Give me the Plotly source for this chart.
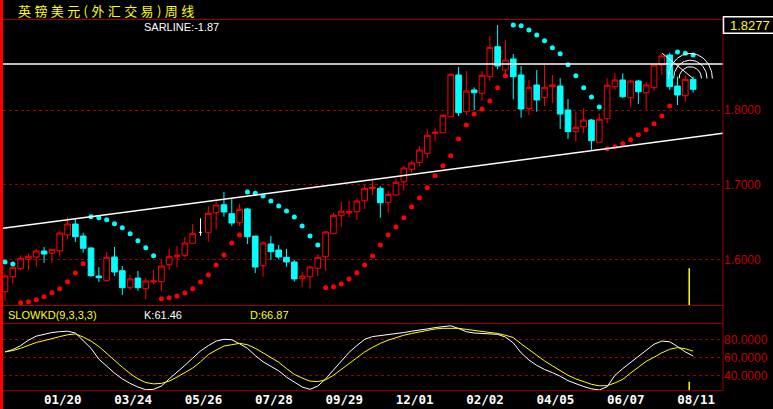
import numpy as np
import plotly.graph_objects as go

# ---------------- data ----------------
opens = [1.5568, 1.5768, 1.5881, 1.6001, 1.6032, 1.6112, 1.6082, 1.6116, 1.6327, 1.6474,
         1.6313, 1.6153, 1.5778, 1.5715, 1.6032, 1.5849, 1.5621, 1.5751, 1.5608, 1.5697,
         1.5702, 1.5929, 1.6036, 1.6055, 1.6216, 1.6363, 1.6357, 1.6625, 1.6732, 1.6612,
         1.6491, 1.6675, 1.6313, 1.5916, 1.6206, 1.6126, 1.6028, 1.5965, 1.5742, 1.5768,
         1.5881, 1.6036, 1.6344, 1.6585, 1.6621, 1.6639, 1.6786, 1.6949, 1.6952, 1.6764,
         1.6862, 1.7040, 1.7206, 1.7295, 1.7420, 1.7688, 1.7696, 1.7910, 1.8469, 1.7977,
         1.8268, 1.8224, 1.8446, 1.8847, 1.8535, 1.8683, 1.8469, 1.8017, 1.8335, 1.8165,
         1.8312, 1.8321, 1.8000, 1.7710, 1.7776, 1.7866, 1.7568, 1.7884, 1.8312, 1.8402,
         1.8165, 1.8388, 1.8232, 1.8299, 1.8602, 1.8736, 1.8321, 1.8191, 1.8411]
highs = [1.5801, 1.5925, 1.6055, 1.6079, 1.6139, 1.6166, 1.6135, 1.6384, 1.6564, 1.6550,
         1.6357, 1.6166, 1.5898, 1.6099, 1.6166, 1.5912, 1.5795, 1.5845, 1.5747, 1.5858,
         1.5992, 1.6139, 1.6179, 1.6304, 1.6474, 1.6550, 1.6715, 1.6805, 1.6902, 1.6818,
         1.6746, 1.6688, 1.6313, 1.6246, 1.6313, 1.6193, 1.6139, 1.5992, 1.5831, 1.5912,
         1.6072, 1.6380, 1.6631, 1.6768, 1.6782, 1.6818, 1.6996, 1.7086, 1.6983, 1.6916,
         1.7086, 1.7254, 1.7321, 1.7518, 1.7742, 1.7755, 1.7946, 1.8486, 1.8576, 1.8522,
         1.8304, 1.8522, 1.8991, 1.9138, 1.8937, 1.8750, 1.8589, 1.8402, 1.8535, 1.8602,
         1.8469, 1.8424, 1.8147, 1.7977, 1.8023, 1.7880, 1.7956, 1.8424, 1.8491, 1.8491,
         1.8402, 1.8402, 1.8379, 1.8602, 1.8759, 1.8767, 1.8446, 1.8455, 1.8446]
lows = [1.5447, 1.5680, 1.5858, 1.5858, 1.5902, 1.5956, 1.5956, 1.6036, 1.6277, 1.6233,
        1.6090, 1.5768, 1.5698, 1.5705, 1.5778, 1.5523, 1.5590, 1.5581, 1.5466, 1.5667,
        1.5577, 1.5858, 1.5894, 1.6028, 1.6216, 1.6317, 1.6237, 1.6403, 1.6572, 1.6447,
        1.6447, 1.6206, 1.5818, 1.5768, 1.5992, 1.6001, 1.5902, 1.5702, 1.5628, 1.5608,
        1.5778, 1.5849, 1.6340, 1.6438, 1.6558, 1.6527, 1.6675, 1.6862, 1.6558, 1.6625,
        1.6853, 1.6920, 1.7161, 1.7250, 1.7353, 1.7585, 1.7692, 1.7906, 1.7920, 1.7933,
        1.8000, 1.8125, 1.8392, 1.8545, 1.8469, 1.8143, 1.7897, 1.7933, 1.7977, 1.8054,
        1.8090, 1.7746, 1.7612, 1.7576, 1.7688, 1.7465, 1.7568, 1.7822, 1.8268, 1.8157,
        1.8036, 1.8080, 1.8000, 1.8254, 1.8469, 1.8268, 1.8067, 1.8111, 1.8232]
closes = [1.5778, 1.5894, 1.6015, 1.6041, 1.6112, 1.6072, 1.6135, 1.6353, 1.6474, 1.6304,
          1.6149, 1.5782, 1.5755, 1.6028, 1.5831, 1.5621, 1.5738, 1.5621, 1.5711, 1.5711,
          1.5912, 1.6036, 1.6055, 1.6220, 1.6349, 1.6363, 1.6617, 1.6728, 1.6635, 1.6487,
          1.6671, 1.6304, 1.5898, 1.6220, 1.6103, 1.6032, 1.5965, 1.5738, 1.5778, 1.5898,
          1.6028, 1.6367, 1.6590, 1.6644, 1.6639, 1.6782, 1.6952, 1.6965, 1.6759, 1.6871,
          1.7032, 1.7224, 1.7291, 1.7465, 1.7661, 1.7701, 1.7929, 1.8478, 1.7964, 1.8254,
          1.8232, 1.8465, 1.8839, 1.8589, 1.8669, 1.8446, 1.8013, 1.8304, 1.8134, 1.8304,
          1.8335, 1.7946, 1.7710, 1.7768, 1.7866, 1.7589, 1.7876, 1.8331, 1.8402, 1.8178,
          1.8388, 1.8245, 1.8335, 1.8602, 1.8723, 1.8312, 1.8201, 1.8411, 1.8277]
sar = [1.5966, 1.5938, 1.5420, 1.5434, 1.5460, 1.5500, 1.5554, 1.5608, 1.5701, 1.5818,
       1.5942, 1.6572, 1.6558, 1.6531, 1.6478, 1.6424, 1.6344, 1.6250, 1.6157, 1.6050,
       1.5474, 1.5487, 1.5510, 1.5550, 1.5608, 1.5697, 1.5791, 1.5925, 1.6059, 1.6220,
       1.6327, 1.6902, 1.6885, 1.6849, 1.6782, 1.6715, 1.6648, 1.6568, 1.6447, 1.6313,
       1.6193, 1.5621, 1.5635, 1.5671, 1.5738, 1.5822, 1.5925, 1.6046, 1.6193, 1.6327,
       1.6434, 1.6558, 1.6704, 1.6825, 1.6958, 1.7119, 1.7254, 1.7388, 1.7612, 1.7799,
       1.7946, 1.8013, 1.8120, 1.8299, 1.8459, 1.9138, 1.9129, 1.9071, 1.9004, 1.8926,
       1.8834, 1.8752, 1.8605, 1.8458, 1.8299, 1.8174, 1.8040, 1.7481, 1.7509, 1.7549,
       1.7602, 1.7668, 1.7736, 1.7817, 1.7920, 1.8054, 1.8776, 1.8759, 1.8736]
k_vals = [66, 68.5, 73, 79, 83.5, 85.5, 87.5, 88.5, 89, 87,
          79, 70, 58, 50, 42.5, 36, 31, 27, 24, 24.4,
          28, 36, 43, 51, 59, 67, 73, 78, 80, 79.5,
          75, 70, 62, 55, 50, 45, 38, 32, 27, 24.4,
          28, 36, 46, 56, 65.5, 73, 80, 83, 84, 85,
          86, 87.5, 89, 90, 91.5, 93, 94, 95, 92, 88.4,
          87, 86.5, 86, 85.5, 82.5, 76, 65, 57, 51, 46.5,
          43, 39, 34, 30.5, 27.5, 25, 23.7, 27.3, 40, 47.5,
          54.5, 61, 68, 74.5, 78, 77.3, 72, 66, 61.46]
d_vals = [66, 67.5, 70, 73.5, 76.5, 78.5, 81, 83, 85, 86,
          82.5, 78, 72, 64, 56.5, 49, 42, 36, 32, 30.5,
          31, 33.5, 38, 43, 48, 55, 63, 68, 72.5, 74,
          75.5, 74, 70, 65, 60, 54.5, 47.5, 41, 37, 33.5,
          33, 35, 40, 47, 53, 59.5, 66, 71, 75.5, 79,
          82, 84.5, 86.5, 88.4, 90, 91.5, 92.2, 92.3, 92.2, 91,
          89.8, 88.8, 88, 86.5, 84.5, 82, 75, 68.5, 62, 56,
          50.5, 45, 40, 36, 32.9, 30, 28.3, 28.5, 31.5, 35.5,
          42.5, 49, 55.5, 60, 65, 68.9, 70.8, 69.5, 66.87]
tick_labels = ["01/20", "03/24", "05/26", "07/28", "09/29",
               "12/01", "02/02", "04/05", "06/07", "08/11"]
tick_bars = [7, 16, 25, 34, 43, 52, 61, 70, 79, 88]
price_ticks = [1.6, 1.7, 1.8]
kd_ticks = [40, 60, 80]
resistance_level = 1.8616
trend_points = [(0, 1.6419), (88, 1.7636)]
fib_start = (84.05, 1.8759)
fib_end = (88.0, 1.8422)
arc_radii_px = [(11.2, 11.7), (16.7, 18.3), (22.0, 25.0)]
cursor_bar = 87.5
cursor_price = 1.5881
cursor_kd = 32.9
title_text = "英镑美元(外汇交易)周线"
sar_text = "SARLINE:-1.87"
last_price_text = "1.8277"

# ---------------- geometry ----------------
W, H = 773, 409
PL, PR = 3, 723
MT, MB = 19.5, 305.5
KT, KB = 323.5, 390.7
x_range = [-0.256, 91.82]
y_range = [1.53829, 1.92115]
kd_range = [22.89, 97.56]

DARKRED = "#9c0000"
LABELRED = "#c00000"
CYAN = "#00ffff"
RED = "#ff0000"
YELLOW = "#ffff00"


def fx(px):
    return px / W


def fy(py):
    return 1 - py / H


n = len(closes)
idx = np.arange(n)
op, hi, lo, cl = map(np.array, (opens, highs, lows, closes))
doji = op == cl
normal = ~doji

fig = go.Figure()

# SAR dots
sar_a = np.array(sar)
above = sar_a > cl
fig.add_trace(go.Scatter(x=idx[above], y=sar_a[above], mode="markers",
                         marker=dict(color=CYAN, size=5, line=dict(width=0)),
                         xaxis="x", yaxis="y", hoverinfo="skip"))
fig.add_trace(go.Scatter(x=idx[~above], y=sar_a[~above], mode="markers",
                         marker=dict(color=RED, size=5, line=dict(width=0)),
                         xaxis="x", yaxis="y", hoverinfo="skip"))

# candles
fig.add_trace(go.Candlestick(
    x=idx[normal], open=op[normal], high=hi[normal], low=lo[normal], close=cl[normal],
    increasing=dict(line=dict(color=RED, width=1), fillcolor="#000000"),
    decreasing=dict(line=dict(color=CYAN, width=1), fillcolor=CYAN),
    whiskerwidth=0, xaxis="x", yaxis="y", hoverinfo="skip"))
if doji.any():
    fig.add_trace(go.Ohlc(
        x=idx[doji], open=op[doji], high=hi[doji], low=lo[doji], close=cl[doji],
        increasing=dict(line=dict(color="#ffffff", width=1)),
        decreasing=dict(line=dict(color="#ffffff", width=1)),
        tickwidth=0.2, xaxis="x", yaxis="y", hoverinfo="skip"))

# trend line extended over the full x range
(x0t, y0t), (x1t, y1t) = trend_points
slope = (y1t - y0t) / (x1t - x0t)
tx = np.array(x_range)
fig.add_trace(go.Scatter(x=tx, y=y0t + slope * (tx - x0t), mode="lines",
                         line=dict(color="#ffffff", width=1.5),
                         xaxis="x", yaxis="y", hoverinfo="skip"))
fig.add_trace(go.Scatter(x=tx, y=[resistance_level] * 2, mode="lines",
                         line=dict(color="#ffffff", width=1.5),
                         xaxis="x", yaxis="y", hoverinfo="skip"))

# fibonacci arcs (drawing tool)
px_per_bar = (PR - PL) / (x_range[1] - x_range[0])
px_per_price = (MB - MT) / (y_range[1] - y_range[0])
fig.add_trace(go.Scatter(x=[fib_start[0], fib_end[0]], y=[fib_start[1], fib_end[1]],
                         mode="lines", line=dict(color="#ffffff", width=1),
                         xaxis="x", yaxis="y", hoverinfo="skip"))
theta = np.linspace(0, np.pi, 40)
cx, cy = fib_end[0] - 2.8 / px_per_bar, fib_end[1]
for rxp, ryp in arc_radii_px:
    fig.add_trace(go.Scatter(x=cx + rxp / px_per_bar * np.cos(theta),
                             y=cy + ryp / px_per_price * np.sin(theta),
                             mode="lines", line=dict(color="#ffffff", width=1),
                             xaxis="x", yaxis="y", hoverinfo="skip"))

# cursor marker
fig.add_trace(go.Scatter(x=[cursor_bar, cursor_bar], y=[cursor_price, y_range[0]], mode="lines",
                         line=dict(color=YELLOW, width=1.5), xaxis="x", yaxis="y", hoverinfo="skip"))
fig.add_trace(go.Scatter(x=[cursor_bar, cursor_bar], y=[cursor_kd, kd_range[0]], mode="lines",
                         line=dict(color=YELLOW, width=1.5), xaxis="x2", yaxis="y2", hoverinfo="skip"))

# KD lines
fig.add_trace(go.Scatter(x=idx, y=k_vals, mode="lines", line=dict(color="#ffffff", width=1),
                         xaxis="x2", yaxis="y2", hoverinfo="skip"))
fig.add_trace(go.Scatter(x=idx, y=d_vals, mode="lines", line=dict(color=YELLOW, width=1),
                         xaxis="x2", yaxis="y2", hoverinfo="skip"))

# ---------------- layout ----------------
shapes = []
# left red strip
shapes.append(dict(type="rect", xref="paper", yref="paper", x0=0, x1=fx(3), y0=0, y1=1,
                   fillcolor=RED, line=dict(width=0), layer="above"))
# panel borders
for py in (MT, MB, KT, KB):
    shapes.append(dict(type="line", xref="paper", yref="paper", x0=fx(PL), x1=fx(PR),
                       y0=fy(py), y1=fy(py), line=dict(color=DARKRED, width=1)))
shapes.append(dict(type="line", xref="paper", yref="paper", x0=fx(PR), x1=fx(PR),
                   y0=fy(KB), y1=fy(17), line=dict(color=DARKRED, width=1)))
# last price box
shapes.append(dict(type="rect", xref="paper", yref="paper", x0=fx(723.5), x1=fx(776),
                   y0=fy(33.3), y1=fy(16.8), fillcolor="#000000",
                   line=dict(color="#ffffff", width=1.5)))

annotations = [
    dict(text='<span style="letter-spacing:3.4px">' + title_text + '</span>',
         xref="paper", yref="paper", x=fx(16), y=fy(10.5), xanchor="left", yanchor="middle",
         showarrow=False, font=dict(family="Noto Sans CJK SC", size=13, color=YELLOW)),
    dict(text=sar_text, xref="paper", yref="paper", x=fx(142), y=fy(27), xanchor="left",
         yanchor="middle", showarrow=False,
         font=dict(family="Liberation Sans", size=11, color="#ffffff")),
    dict(text=last_price_text, xref="paper", yref="paper", x=fx(728), y=fy(25.3), xanchor="left",
         yanchor="middle", showarrow=False,
         font=dict(family="Liberation Sans", size=13, color=YELLOW)),
    dict(text="SLOWKD(9,3,3,3)", xref="paper", yref="paper", x=fx(6), y=fy(315), xanchor="left",
         yanchor="middle", showarrow=False,
         font=dict(family="Liberation Sans", size=11, color=YELLOW)),
    dict(text="K:%.2f" % k_vals[-1], xref="paper", yref="paper", x=fx(142), y=fy(315),
         xanchor="left", yanchor="middle", showarrow=False,
         font=dict(family="Liberation Sans", size=11, color="#ffffff")),
    dict(text="D:%.2f" % d_vals[-1], xref="paper", yref="paper", x=fx(248), y=fy(315),
         xanchor="left", yanchor="middle", showarrow=False,
         font=dict(family="Liberation Sans", size=11, color=YELLOW)),
]

fig.update_layout(
    width=W, height=H,
    margin=dict(l=0, r=0, t=0, b=0),
    paper_bgcolor="#000000", plot_bgcolor="#000000",
    showlegend=False,
    boxgap=0.2, boxgroupgap=0.1,
    xaxis=dict(domain=[fx(PL), fx(PR)], range=x_range, anchor="y",
               showgrid=False, zeroline=False, showticklabels=False, ticks="",
               rangeslider=dict(visible=False), fixedrange=True),
    yaxis=dict(domain=[fy(MB), fy(MT)], range=y_range, anchor="x", side="right",
               tickvals=price_ticks, ticktext=["%.4f" % v for v in price_ticks],
               tickfont=dict(family="Liberation Sans", size=12, color=LABELRED),
               showgrid=True, gridcolor=DARKRED, gridwidth=1, griddash="3px,3px",
               zeroline=False, ticks="", fixedrange=True),
    xaxis2=dict(domain=[fx(PL), fx(PR)], range=x_range, anchor="y2",
                showgrid=False, zeroline=False, ticks="",
                tickvals=tick_bars, ticktext=tick_labels, ticklabelshift=3,
                tickfont=dict(family="DejaVu Sans Mono", size=12.5, color="#ffffff", weight="bold"),
                fixedrange=True),
    yaxis2=dict(domain=[fy(KB), fy(KT)], range=kd_range, anchor="x2", side="right",
                tickvals=kd_ticks, ticktext=["%.4f" % v for v in kd_ticks],
                tickfont=dict(family="Liberation Sans", size=12, color=LABELRED),
                showgrid=True, gridcolor=DARKRED, gridwidth=1, griddash="3px,3px",
                zeroline=False, ticks="", fixedrange=True),
    shapes=shapes,
    annotations=annotations,
)

fig.write_html("out.html", config={"displayModeBar": False, "staticPlot": True},
               post_script="document.body.style.margin='0';document.body.style.overflow='hidden';")
